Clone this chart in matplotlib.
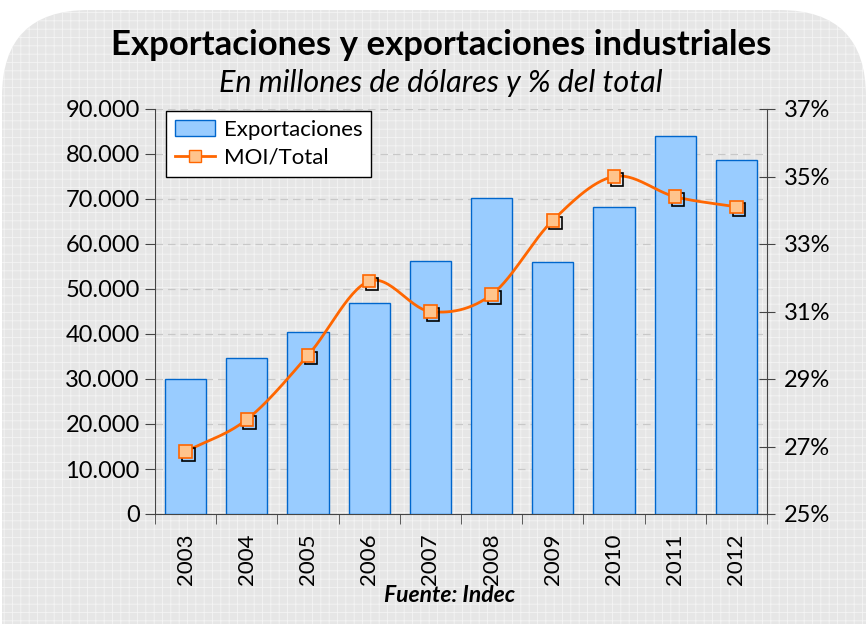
import numpy as np
import matplotlib
matplotlib.use("Agg")
import matplotlib.pyplot as plt
from matplotlib.patches import FancyBboxPatch, Patch
from matplotlib.lines import Line2D
from matplotlib.ticker import FuncFormatter, FixedLocator
import matplotlib.patheffects as pe

plt.rcParams['font.family'] = ['Lato', 'DejaVu Sans']
plt.rcParams['hatch.linewidth'] = 0.6

years = ['2003', '2004', '2005', '2006', '2007', '2008', '2009', '2010', '2011', '2012']
exportaciones = [30000, 34600, 40400, 46800, 56200, 70300, 55900, 68200, 84100, 78700]
moi_total = [26.85, 27.8, 29.7, 31.9, 31.0, 31.5, 33.7, 35.0, 34.4, 34.1]

W, H = 868, 624
fig = plt.figure(figsize=(W/100, H/100), dpi=100)
fig.patch.set_facecolor('white')

bg = FancyBboxPatch((2/W, -0.2), (W-4)/W, 1.2 - 10/H,
                    boxstyle="round,pad=0,rounding_size=0.1",
                    transform=fig.transFigure, facecolor='#E6E6E6',
                    edgecolor='#F4F4F4', hatch='++', linewidth=0, zorder=-10,
                    mutation_aspect=W/H)
fig.add_artist(bg)

ax = fig.add_axes([155/W, 1-514/H, (767-155)/W, (514-109)/H])
ax.set_facecolor('none')
x = np.arange(len(years))
ax.bar(x, exportaciones, width=0.67, color='#99CCFF', edgecolor='#0066CC',
       linewidth=1.0, zorder=3, label='Exportaciones')
ax.set_xlim(-0.5, len(years)-0.5)
ax.set_ylim(0, 90000)
ax.set_yticks(np.arange(0, 90001, 10000))
ax.yaxis.set_major_formatter(FuncFormatter(lambda v, p: f"{int(v):,}".replace(',', '.')))
ax.yaxis.grid(True, linestyle=(0, (6, 4)), color='#C8C8C8', linewidth=0.9, zorder=1)
ax.set_axisbelow(True)
ax.set_xticks(x)
ax.set_xticklabels(years, rotation=90, fontsize=16)
ax.xaxis.set_minor_locator(FixedLocator(np.arange(-0.5, len(years), 1.0)))
ax.tick_params(axis='x', which='major', length=0, pad=14)
ax.tick_params(axis='x', which='minor', length=7, direction='out', color='#444444')
ax.tick_params(axis='y', length=7, direction='out', labelsize=17, color='#444444', pad=4)
ax.spines['top'].set_visible(False)
ax.spines['right'].set_visible(False)
ax.spines['left'].set_color('#444444')
ax.spines['bottom'].set_color('#444444')

ax2 = ax.twinx()
ax2.set_ylim(25, 37)
ax2.set_yticks(np.arange(25, 37.1, 2))
ax2.yaxis.set_major_formatter(FuncFormatter(lambda v, p: f"{int(round(v))}%"))
ax2.tick_params(axis='y', length=12, direction='inout', labelsize=17, color='#444444', pad=6)
for s in ['top', 'left', 'bottom']:
    ax2.spines[s].set_visible(False)
ax2.spines['right'].set_color('#444444')

# Catmull-Rom smoothing of the line
xs = np.array(x, dtype=float)
ys = np.array(moi_total, dtype=float)
px = np.concatenate([[2*xs[0]-xs[1]], xs, [2*xs[-1]-xs[-2]]])
py = np.concatenate([[2*ys[0]-ys[1]], ys, [2*ys[-1]-ys[-2]]])
cx, cy = [], []
t = np.linspace(0, 1, 30)
def cr(a0, a1, a2, a3):
    return 0.5*((2*a1) + (-a0+a2)*t + (2*a0-5*a1+4*a2-a3)*t**2 + (-a0+3*a1-3*a2+a3)*t**3)
for i in range(1, len(px)-2):
    cx.extend(cr(px[i-1], px[i], px[i+1], px[i+2]))
    cy.extend(cr(py[i-1], py[i], py[i+1], py[i+2]))
ax2.plot(cx, cy, color='#FF6600', linewidth=2.0, zorder=4)
ax2.plot(xs, ys, linestyle='none', marker='s', markersize=9,
         markerfacecolor='#FFC48C', markeredgecolor='#FF6600', markeredgewidth=1.2,
         zorder=5, path_effects=[pe.SimpleLineShadow(offset=(2, -2), shadow_color='black', alpha=1), pe.Normal()])

handles = [Patch(facecolor='#99CCFF', edgecolor='#0066CC', label='Exportaciones'),
           Line2D([0], [0], color='#FF6600', linewidth=2, marker='s', markersize=9,
                  markerfacecolor='#FFC48C', markeredgecolor='#FF6600', label='MOI/Total')]
leg = ax2.legend(handles=handles, loc='upper left', bbox_to_anchor=(11/612, 1 - 2/405),
                 borderaxespad=0, fontsize=16, frameon=True, fancybox=False, edgecolor='black',
                 borderpad=0.4, handlelength=1.8, handletextpad=0.4, labelspacing=0.35)
leg.get_frame().set_linewidth(1.0)
leg.get_frame().set_facecolor('white')
leg.get_frame().set_alpha(1)

fig.text(441/W, 1-45/H, 'Exportaciones y exportaciones industriales', ha='center', va='center',
         fontsize=25, fontweight='bold')
fig.text(441/W, 1-83/H, 'En millones de dólares y % del total', ha='center', va='center',
         fontsize=22, style='italic')
fig.text(450/W, 1-595/H, 'Fuente: Indec', ha='center', va='center',
         fontsize=16.5, style='italic', fontweight='bold')

fig.savefig('out.png', dpi=100)
